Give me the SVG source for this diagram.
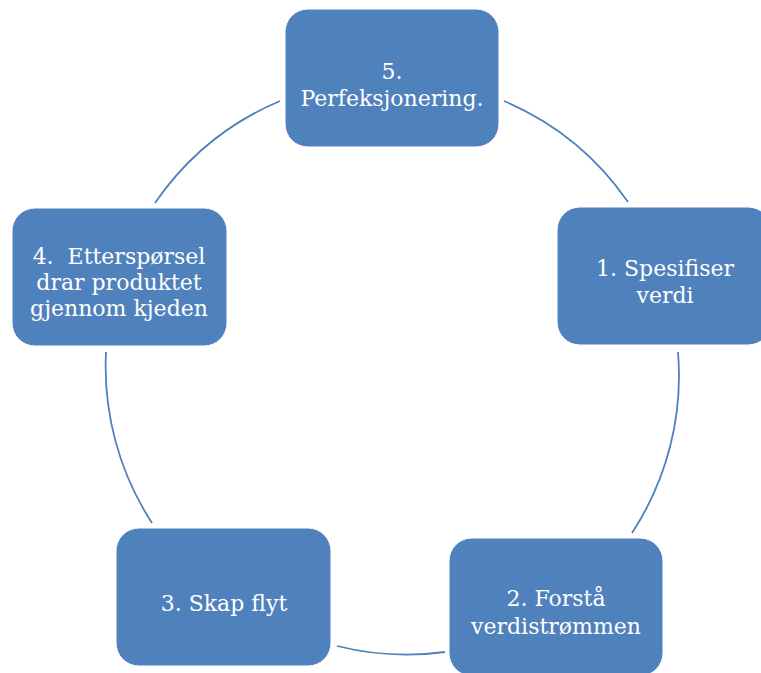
<svg xmlns="http://www.w3.org/2000/svg" width="761" height="673" viewBox="0 0 761 673">
<style>
.node{fill:#4F81BD;stroke:#FFFFFF;stroke-width:1}
.lbl{font-family:"DejaVu Serif","Liberation Serif",serif;font-size:22px;fill:#FFFFFF;text-anchor:middle;white-space:pre}
.arc{fill:none;stroke:#4F81BD;stroke-width:1.8}
</style>
<rect width="761" height="673" fill="#FFFFFF"/>
<g id="connectors">
<path class="arc" d="M504,101 A287,287 0 0 1 628,202"/>
<path class="arc" d="M678,352 A287,287 0 0 1 632,533"/>
<path class="arc" d="M445,652 A287,287 0 0 1 337,646"/>
<path class="arc" d="M152,523 A287,287 0 0 1 106,352"/>
<path class="arc" d="M155,203 A287,287 0 0 1 280,101"/>
</g>
<g id="node5">
<rect class="node" x="285" y="9" width="214" height="138" rx="23" ry="23"/>
<text class="lbl" x="392" y="79">5.</text>
<text class="lbl" x="392" y="106">Perfeksjonering.</text>
</g>
<g id="node1">
<rect class="node" x="557" y="207" width="214" height="138" rx="23" ry="23"/>
<text class="lbl" x="665" y="276">1. Spesifiser</text>
<text class="lbl" x="665" y="303">verdi</text>
</g>
<g id="node2">
<rect class="node" x="449" y="538" width="214" height="138" rx="23" ry="23"/>
<text class="lbl" x="556" y="606">2. Forstå</text>
<text class="lbl" x="556" y="634">verdistrømmen</text>
</g>
<g id="node3">
<rect class="node" x="116" y="528" width="215" height="138" rx="23" ry="23"/>
<text class="lbl" x="224" y="611">3. Skap flyt</text>
</g>
<g id="node4">
<rect class="node" x="12" y="208" width="215" height="138" rx="23" ry="23"/>
<text class="lbl" x="119" y="264">4.  Etterspørsel</text>
<text class="lbl" x="119" y="290">drar produktet</text>
<text class="lbl" x="119" y="316">gjennom kjeden</text>
</g>
</svg>
